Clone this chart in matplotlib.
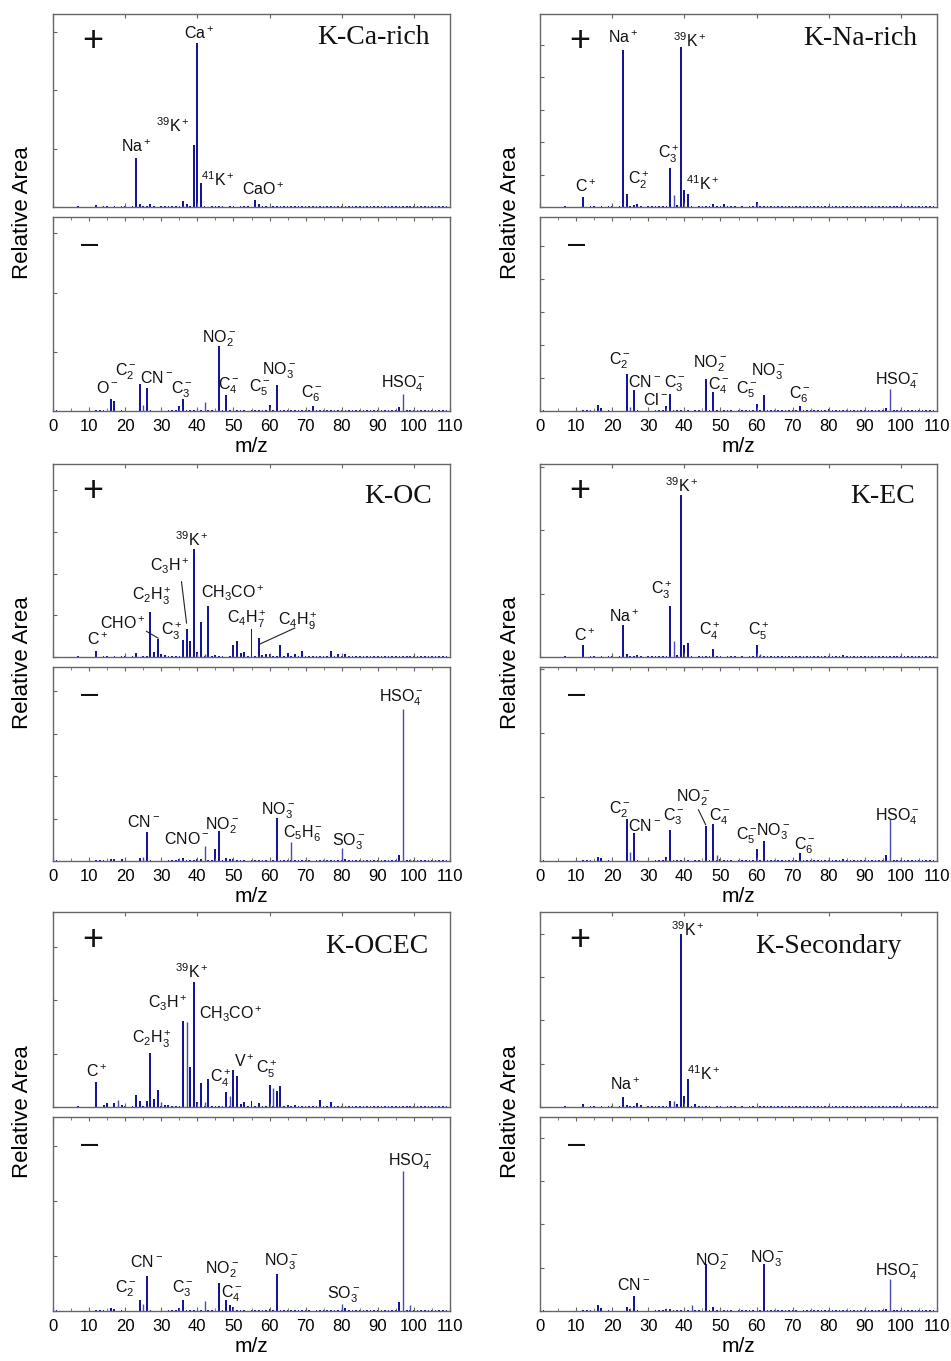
import matplotlib
matplotlib.use('Agg')
import matplotlib.pyplot as plt
from matplotlib.ticker import MultipleLocator

plt.rcParams['font.family'] = ['Liberation Sans', 'DejaVu Sans']
plt.rcParams['mathtext.fontset'] = 'custom'
plt.rcParams['mathtext.rm'] = 'Liberation Sans'
plt.rcParams['mathtext.it'] = 'Liberation Sans'
plt.rcParams['mathtext.bf'] = 'Liberation Sans:bold'
plt.rcParams['mathtext.sf'] = 'Liberation Sans'

# ---------------- data (relative peak heights, fraction of panel height) ----------------
# trace (baseline) peaks
trace_pos_mz = [7, 12, 14, 15, 17, 19, 20, 22, 25, 26, 28, 30, 31, 32, 33, 34, 35, 38, 42, 44, 45,
                46, 47, 49, 50, 52, 53, 54, 56, 58, 59, 61, 62, 63, 64, 65, 66, 67, 68, 69, 70, 71,
                72, 73, 74, 75, 76, 77, 78, 79, 80, 81, 82, 83, 84, 85, 86, 87, 88, 89, 90, 91, 92,
                93, 94, 95, 96, 97, 98, 99, 100, 101, 102, 103, 104, 105, 106, 107, 108, 109]
trace_neg_mz = [1, 12, 13, 14, 19, 27, 32, 33, 34, 37, 38, 39, 40, 41, 43, 44, 47, 49, 50, 51, 52,
                53, 55, 56, 57, 58, 59, 61, 63, 64, 65, 66, 67, 68, 69, 70, 71, 73, 74, 75, 76, 77,
                78, 79, 80, 81, 82, 83, 84, 85, 86, 87, 88, 89, 90, 91, 92, 93, 94, 95, 98, 99, 100,
                101, 102, 103, 104, 105, 106, 107, 108, 109]
trace_h = 0.007

# K-Ca-rich
kca_pos_mz = [12, 23, 24, 27, 36, 37, 39, 40, 41, 56, 57]
kca_pos_h = [0.012, 0.254, 0.017, 0.017, 0.033, 0.015, 0.323, 0.85, 0.126, 0.036, 0.015]
kca_pos_thin_mz = []
kca_pos_thin_h = []
kca_neg_mz = [16, 17, 24, 26, 35, 36, 46, 48, 60, 62, 72, 96]
kca_neg_h = [0.063, 0.051, 0.139, 0.118, 0.026, 0.063, 0.334, 0.084, 0.033, 0.132, 0.027, 0.02]
kca_neg_thin_mz = [25, 42, 97]
kca_neg_thin_h = [0.033, 0.045, 0.087]
kca_pos_lab = [r'Ca$^+$', r'$^{39}$K$^+$', r'Na$^+$', r'$^{41}$K$^+$', r'CaO$^+$']
kca_pos_lx = [40.4, 33.3, 23.1, 45.7, 58.2]
kca_pos_ly = [0.90, 0.42, 0.31, 0.14, 0.09]
kca_neg_lab = [r'O$^-$', r'C$_2^-$', r'CN$^-$', r'C$_3^-$', r'NO$_2^-$', r'C$_4^-$', r'C$_5^-$',
               r'NO$_3^-$', r'C$_6^-$', r'HSO$_4^-$']
kca_neg_lx = [15.0, 20.3, 28.6, 35.6, 45.9, 48.8, 57.4, 62.6, 71.6, 97.2]
kca_neg_ly = [0.12, 0.20, 0.17, 0.11, 0.37, 0.13, 0.12, 0.21, 0.09, 0.14]

# K-Na-rich
kna_pos_mz = [12, 23, 24, 26, 27, 36, 38, 39, 40, 41, 48, 51, 60]
kna_pos_h = [0.052, 0.813, 0.069, 0.012, 0.015, 0.202, 0.01, 0.830, 0.087, 0.069, 0.017, 0.017, 0.026]
kna_pos_thin_mz = [37]
kna_pos_thin_h = [0.06]
kna_neg_mz = [16, 17, 24, 26, 35, 36, 46, 48, 60, 62, 72, 80, 96]
kna_neg_h = [0.033, 0.017, 0.193, 0.107, 0.026, 0.086, 0.167, 0.098, 0.036, 0.081, 0.026, 0.01, 0.017]
kna_neg_thin_mz = [25, 97]
kna_neg_thin_h = [0.02, 0.115]
kna_pos_lab = [r'Na$^+$', r'$^{39}$K$^+$', r'C$_3^+$', r'C$_2^+$', r'C$^+$', r'$^{41}$K$^+$']
kna_pos_lx = [23.1, 41.6, 35.6, 27.3, 12.7, 45.0]
kna_pos_ly = [0.877, 0.86, 0.27, 0.14, 0.107, 0.12]
kna_neg_lab = [r'C$_2^-$', r'CN$^-$', r'C$_3^-$', r'Cl$^-$', r'NO$_2^-$', r'C$_4^-$', r'C$_5^-$',
               r'NO$_3^-$', r'C$_6^-$', r'HSO$_4^-$']
kna_neg_lx = [22.2, 29.1, 37.4, 32.0, 47.1, 49.4, 57.3, 63.3, 72.1, 98.9]
kna_neg_ly = [0.26, 0.15, 0.14, 0.055, 0.245, 0.13, 0.107, 0.2, 0.086, 0.158]

# K-OC
koc_pos_mz = [12, 23, 27, 28, 29, 30, 31, 36, 37, 38, 39, 40, 41, 43, 45, 50, 51, 52, 53, 55, 57,
              58, 59, 60, 63, 65, 67, 69, 77, 79, 81]
koc_pos_h = [0.033, 0.02, 0.231, 0.026, 0.095, 0.015, 0.012, 0.09, 0.147, 0.081, 0.559, 0.026,
             0.181, 0.262, 0.012, 0.064, 0.081, 0.02, 0.026, 0.143, 0.1, 0.01, 0.015, 0.015,
             0.064, 0.02, 0.015, 0.033, 0.031, 0.013, 0.013]
koc_pos_thin_mz = [42]
koc_pos_thin_h = [0.015]
koc_neg_mz = [16, 17, 19, 24, 26, 35, 36, 40, 41, 45, 46, 48, 49, 50, 62, 81, 96]
koc_neg_h = [0.01, 0.01, 0.01, 0.015, 0.15, 0.012, 0.015, 0.01, 0.01, 0.064, 0.155, 0.015, 0.012,
             0.012, 0.224, 0.01, 0.033]
koc_neg_thin_mz = [25, 42, 66, 80, 97, 99]
koc_neg_thin_h = [0.02, 0.076, 0.098, 0.067, 0.783, 0.01]
koc_pos_lab = [r'$^{39}$K$^+$', r'C$_3$H$^+$', r'C$_2$H$_3^+$', r'CHO$^+$', r'C$^+$', r'C$_3^+$',
               r'CH$_3$CO$^+$', r'C$_4$H$_7^+$', r'C$_4$H$_9^+$']
koc_pos_lx = [38.4, 32.3, 27.3, 19.4, 12.5, 32.8, 49.9, 53.6, 67.9]
koc_pos_ly = [0.607, 0.469, 0.314, 0.17, 0.09, 0.133, 0.331, 0.197, 0.184]
koc_pos_lines = [((35.6, 0.39), (37.0, 0.176)), ((25.9, 0.133), (29.1, 0.098)),
                 ((67.0, 0.15), (57.3, 0.067))]
koc_neg_lab = [r'CN$^-$', r'CNO$^-$', r'NO$_2^-$', r'NO$_3^-$', r'C$_5$H$_6^-$', r'SO$_3^-$',
               r'HSO$_4^-$']
koc_neg_lx = [25.0, 37.0, 46.7, 62.4, 69.3, 81.8, 96.6]
koc_neg_ly = [0.2, 0.115, 0.184, 0.26, 0.14, 0.098, 0.84]

# K-EC
kec_pos_mz = [12, 23, 24, 27, 36, 38, 39, 40, 41, 48, 60, 84]
kec_pos_h = [0.061, 0.168, 0.017, 0.01, 0.265, 0.012, 0.839, 0.061, 0.073, 0.042, 0.061, 0.01]
kec_pos_thin_mz = [37, 61]
kec_pos_thin_h = [0.085, 0.015]
kec_neg_mz = [16, 17, 24, 26, 35, 36, 46, 48, 50, 60, 62, 72, 84, 96]
kec_neg_h = [0.019, 0.015, 0.218, 0.144, 0.019, 0.161, 0.182, 0.192, 0.012, 0.062, 0.101, 0.039,
             0.012, 0.033]
kec_neg_thin_mz = [25, 49, 97]
kec_neg_thin_h = [0.045, 0.031, 0.216]
kec_pos_lab = [r'$^{39}$K$^+$', r'C$_3^+$', r'Na$^+$', r'C$^+$', r'C$_4^+$', r'C$_5^+$']
kec_pos_lx = [39.3, 33.7, 23.3, 12.3, 47.1, 60.5]
kec_pos_ly = [0.89, 0.346, 0.208, 0.112, 0.13, 0.13]
kec_neg_lab = [r'C$_2^-$', r'CN$^-$', r'C$_3^-$', r'NO$_2^-$', r'C$_4^-$', r'C$_5^-$', r'NO$_3^-$',
               r'C$_6^-$', r'HSO$_4^-$']
kec_neg_lx = [22.2, 29.1, 37.0, 42.5, 49.9, 57.3, 64.7, 73.5, 98.9]
kec_neg_ly = [0.264, 0.178, 0.23, 0.324, 0.23, 0.13, 0.153, 0.08, 0.23]
kec_neg_lines = [((43.9, 0.264), (45.9, 0.187))]

# K-OCEC
kocec_pos_mz = [12, 14, 15, 17, 19, 23, 24, 26, 27, 28, 29, 31, 32, 36, 38, 39, 40, 41, 43, 48,
                50, 51, 52, 53, 55, 57, 60, 62, 63, 65, 67, 74, 77]
kocec_pos_h = [0.13, 0.01, 0.019, 0.019, 0.012, 0.062, 0.031, 0.031, 0.277, 0.041, 0.087, 0.01,
               0.01, 0.443, 0.204, 0.64, 0.024, 0.125, 0.144, 0.075, 0.192, 0.161, 0.017, 0.024,
               0.031, 0.02, 0.113, 0.082, 0.106, 0.01, 0.01, 0.038, 0.024]
kocec_pos_thin_mz = [18, 30, 37, 42, 49, 61]
kocec_pos_thin_h = [0.036, 0.024, 0.435, 0.024, 0.055, 0.1]
kocec_neg_mz = [16, 17, 24, 26, 35, 36, 46, 48, 49, 50, 60, 62, 81, 96]
kocec_neg_h = [0.014, 0.01, 0.057, 0.18, 0.014, 0.057, 0.143, 0.057, 0.031, 0.019, 0.012, 0.192,
               0.014, 0.045]
kocec_neg_thin_mz = [25, 42, 80, 97, 99]
kocec_neg_thin_h = [0.038, 0.052, 0.038, 0.722, 0.031]
kocec_pos_lab = [r'$^{39}$K$^+$', r'C$_3$H$^+$', r'CH$_3$CO$^+$', r'C$_2$H$_3^+$', r'C$^+$',
                 r'C$_4^+$', r'V$^+$', r'C$_5^+$']
kocec_pos_lx = [38.5, 31.9, 49.4, 27.3, 12.0, 46.5, 53.1, 59.2]
kocec_pos_ly = [0.695, 0.533, 0.473, 0.344, 0.182, 0.147, 0.233, 0.19]
kocec_neg_lab = [r'C$_2^-$', r'CN$^-$', r'C$_3^-$', r'NO$_2^-$', r'C$_4^-$', r'NO$_3^-$',
                 r'SO$_3^-$', r'HSO$_4^-$']
kocec_neg_lx = [20.3, 25.9, 35.9, 46.7, 49.6, 63.3, 80.4, 98.9]
kocec_neg_ly = [0.117, 0.254, 0.117, 0.211, 0.091, 0.254, 0.082, 0.77]

# K-Secondary
ksec_pos_mz = [12, 23, 24, 27, 28, 36, 38, 39, 40, 41, 43]
ksec_pos_h = [0.014, 0.05, 0.01, 0.019, 0.01, 0.031, 0.014, 0.887, 0.057, 0.142, 0.014]
ksec_pos_thin_mz = [37]
ksec_pos_thin_h = [0.031]
ksec_neg_mz = [16, 17, 24, 25, 26, 35, 36, 46, 48, 62, 96]
ksec_neg_h = [0.033, 0.014, 0.019, 0.01, 0.076, 0.012, 0.012, 0.241, 0.019, 0.241, 0.01]
ksec_neg_thin_mz = [42, 97]
ksec_neg_thin_h = [0.03, 0.167]
ksec_pos_lab = [r'$^{39}$K$^+$', r'$^{41}$K$^+$', r'Na$^+$']
ksec_pos_lx = [41.1, 45.3, 23.6]
ksec_pos_ly = [0.91, 0.173, 0.113]
ksec_neg_lab = [r'CN$^-$', r'NO$_2^-$', r'NO$_3^-$', r'HSO$_4^-$']
ksec_neg_lx = [25.9, 47.6, 62.8, 98.9]
ksec_neg_ly = [0.134, 0.254, 0.271, 0.203]

titles = ['K-Ca-rich', 'K-Na-rich', 'K-OC', 'K-EC', 'K-OCEC', 'K-Secondary']
title_x = [104.4, 104.4, 104.9, 104.0, 104.0, 100.3]
title_y = [0.876, 0.874, 0.831, 0.83, 0.824, 0.824]
pos_ytick_step = [0.302, 0.168, 0.216, 0.329, 0.274, 0.222]
neg_ytick_step = [0.305, 0.17, 0.219, 0.33, 0.283, 0.223]
xticks = [0, 10, 20, 30, 40, 50, 60, 70, 80, 90, 100, 110]

# ---------------- assemble ----------------
panels = [
    (kca_pos_mz, kca_pos_h, kca_pos_thin_mz, kca_pos_thin_h, kca_pos_lab, kca_pos_lx, kca_pos_ly, [],
     kca_neg_mz, kca_neg_h, kca_neg_thin_mz, kca_neg_thin_h, kca_neg_lab, kca_neg_lx, kca_neg_ly, []),
    (kna_pos_mz, kna_pos_h, kna_pos_thin_mz, kna_pos_thin_h, kna_pos_lab, kna_pos_lx, kna_pos_ly, [],
     kna_neg_mz, kna_neg_h, kna_neg_thin_mz, kna_neg_thin_h, kna_neg_lab, kna_neg_lx, kna_neg_ly, []),
    (koc_pos_mz, koc_pos_h, koc_pos_thin_mz, koc_pos_thin_h, koc_pos_lab, koc_pos_lx, koc_pos_ly,
     koc_pos_lines,
     koc_neg_mz, koc_neg_h, koc_neg_thin_mz, koc_neg_thin_h, koc_neg_lab, koc_neg_lx, koc_neg_ly, []),
    (kec_pos_mz, kec_pos_h, kec_pos_thin_mz, kec_pos_thin_h, kec_pos_lab, kec_pos_lx, kec_pos_ly, [],
     kec_neg_mz, kec_neg_h, kec_neg_thin_mz, kec_neg_thin_h, kec_neg_lab, kec_neg_lx, kec_neg_ly,
     kec_neg_lines),
    (kocec_pos_mz, kocec_pos_h, kocec_pos_thin_mz, kocec_pos_thin_h, kocec_pos_lab, kocec_pos_lx,
     kocec_pos_ly, [],
     kocec_neg_mz, kocec_neg_h, kocec_neg_thin_mz, kocec_neg_thin_h, kocec_neg_lab, kocec_neg_lx,
     kocec_neg_ly, []),
    (ksec_pos_mz, ksec_pos_h, ksec_pos_thin_mz, ksec_pos_thin_h, ksec_pos_lab, ksec_pos_lx, ksec_pos_ly, [],
     ksec_neg_mz, ksec_neg_h, ksec_neg_thin_mz, ksec_neg_thin_h, ksec_neg_lab, ksec_neg_lx, ksec_neg_ly, []),
]

W, H = 951, 1361
fig = plt.figure(figsize=(W / 100, H / 100), dpi=100)

col_x = [53, 540]
ax_w = 397
row_pos = [(14, 207), (464, 657), (912, 1107)]
row_neg = [(217, 411), (667, 861), (1117, 1311)]

BAR = '#15159a'
THIN = '#4a4ab4'
SPINE = '#666666'


def fig_rect(x0, top, bottom):
    return [x0 / W, 1 - bottom / H, ax_w / W, (bottom - top) / H]


def style_axis(ax, ystep, neg):
    ax.set_xlim(0, 110)
    ax.set_ylim(0, 1)
    for s in ax.spines.values():
        s.set_color(SPINE)
        s.set_linewidth(1.0)
    ax.yaxis.set_major_locator(MultipleLocator(ystep))
    ax.set_yticklabels([])
    if neg:
        ax.set_xticks(xticks)
        ax.xaxis.set_minor_locator(MultipleLocator(5))
        ax.tick_params(axis='x', which='major', direction='in', length=3, top=True,
                       color=SPINE, labelsize=12, pad=6)
        ax.tick_params(axis='x', which='minor', direction='in', length=2, top=True, color=SPINE)
    else:
        ax.xaxis.set_major_locator(MultipleLocator(20))
        ax.tick_params(axis='x', which='major', direction='in', length=3, top=True,
                       color=SPINE, labelbottom=False)
    ax.tick_params(axis='y', which='major', direction='in', length=3, color=SPINE)


def draw(ax, trace, mz, h, tmz, th, lab, lx, ly, lines):
    ax.bar(trace, [trace_h] * len(trace), width=0.45, color=BAR, linewidth=0)
    ax.bar(mz, h, width=0.55, color=BAR, linewidth=0)
    if tmz:
        ax.vlines(tmz, 0, th, colors=THIN, linewidth=1.0)
    for t, x, y in zip(lab, lx, ly):
        ax.text(x, y, t, ha='center', va='center', fontsize=11.5, color='#111111')
    for (p, q) in lines:
        ax.plot([p[0], q[0]], [p[1], q[1]], color='#222222', lw=0.8)


for i, pnl in enumerate(panels):
    col = i % 2
    row = i // 2
    x0 = col_x[col]
    axp = fig.add_axes(fig_rect(x0, *row_pos[row]))
    axn = fig.add_axes(fig_rect(x0, *row_neg[row]))
    style_axis(axp, pos_ytick_step[i], False)
    style_axis(axn, neg_ytick_step[i], True)
    draw(axp, trace_pos_mz, *pnl[0:8])
    draw(axn, trace_neg_mz, *pnl[8:16])
    axp.text(title_x[i], title_y[i], titles[i], ha='right', va='center',
             family='Liberation Serif', fontsize=20, color='#111111')
    axp.text(11.0, 0.855, '+', ha='center', va='center', fontsize=26, color='#111111')
    axn.text(10.2, 0.858, '\u2013', ha='center', va='center', fontsize=22, color='#111111')
    axn.set_xlabel('m/z', fontsize=15, labelpad=2)
    top_px = row_pos[row][0]
    bot_px = row_neg[row][1]
    fig.text((x0 - 30) / W, 1 - (top_px + bot_px) / 2 / H, 'Relative Area', rotation=90,
             ha='center', va='center', fontsize=16)

fig.savefig('out.png', dpi=100)
